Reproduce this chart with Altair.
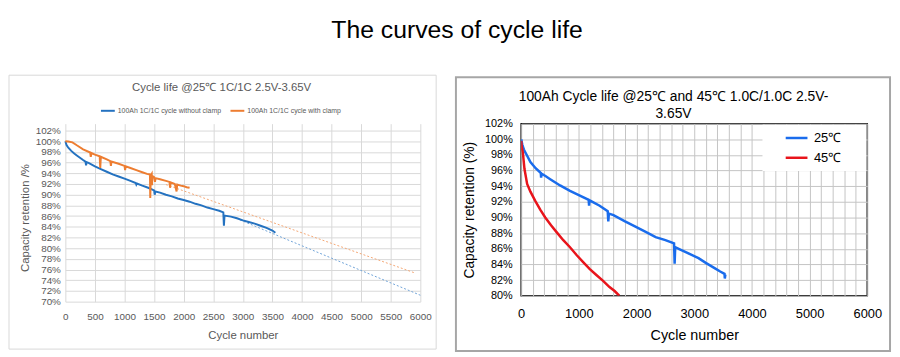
import altair as alt
import pandas as pd

MAIN_TITLE = "The curves of cycle life"

# ---------------- Left chart data ----------------
L_TITLE = "Cycle life @25℃ 1C/1C 2.5V-3.65V"
L_SERIES = ["100Ah 1C/1C cycle without clamp", "100Ah 1C/1C cycle with clamp"]
L_COLORS = ["#2472c0", "#ed7d31"]

L_BLUE_CYCLE = [0, 20, 50, 100, 150, 200, 300, 340, 350, 360, 400, 500, 600, 700, 800, 900,
                1000, 1100, 1190, 1200, 1210, 1300, 1400, 1500, 1510, 1520, 1600, 1700, 1800,
                1900, 2000, 2100, 2200, 2300, 2400, 2500, 2600, 2670, 2680, 2690, 2800, 2900,
                3000, 3100, 3200, 3300, 3400, 3500, 3550]
L_BLUE_VAL = [100.0, 99.3, 98.8, 98.2, 97.7, 97.3, 96.5, 96.2, 95.5, 96.1, 95.9, 95.3, 94.8,
              94.3, 93.8, 93.4, 93.0, 92.6, 92.2, 91.9, 92.1, 91.7, 91.3, 90.8, 90.0, 90.6,
              90.4, 90.0, 89.7, 89.3, 89.0, 88.7, 88.3, 88.0, 87.6, 87.3, 87.0, 86.7, 84.2,
              86.1, 85.9, 85.6, 85.2, 84.9, 84.6, 84.2, 83.8, 83.3, 82.9]

L_ORANGE_CYCLE = [0, 50, 120, 200, 300, 420, 430, 440, 500, 580, 590, 600, 700, 760, 770, 780,
                  900, 1000, 1010, 1020, 1100, 1200, 1300, 1380, 1430, 1435, 1445, 1460, 1465,
                  1470, 1500, 1515, 1525, 1600, 1700, 1760, 1770, 1780, 1850, 1880, 1890, 1950,
                  2000, 2050, 2100]
L_ORANGE_VAL = [100.0, 99.95, 99.8, 99.2, 98.5, 97.9, 97.1, 97.8, 97.5, 97.2, 95.0, 97.1, 96.6,
                96.3, 95.4, 96.2, 95.8, 95.4, 94.6, 95.3, 95.0, 94.6, 94.2, 93.9, 93.8, 89.4,
                93.6, 93.9, 91.8, 93.5, 93.3, 92.4, 93.1, 92.9, 92.6, 92.4, 91.3, 92.3, 92.0,
                90.6, 91.9, 91.7, 91.6, 91.4, 91.3]

L_BLUE_TREND_CYCLE = [2950, 6000]
L_BLUE_TREND_VAL = [85.3, 71.2]
L_ORANGE_TREND_CYCLE = [1700, 5900]
L_ORANGE_TREND_VAL = [91.9, 75.4]

L_X_TICKS = list(range(0, 6001, 500))
L_Y_TICKS = list(range(70, 103, 2))

# ---------------- Right chart data ----------------
R_TITLE = "100Ah Cycle life @25℃ and 45℃ 1.0C/1.0C 2.5V-\n3.65V"
R_SERIES = ["25℃", "45℃"]
R_COLORS = ["#1a6cec", "#e8141b"]

R_25_CYCLE = [0, 20, 46, 103, 160, 250, 331, 340, 345, 355, 420, 503, 674, 846, 1017, 1170,
              1177, 1185, 1360, 1500, 1510, 1520, 1600, 1800, 1989, 2150, 2331, 2500, 2650,
              2660, 2670, 2731, 2900, 3074, 3200, 3360, 3450, 3525, 3530, 3540]
R_25_VAL = [100.0, 99.3, 98.7, 97.9, 97.1, 96.3, 95.75, 95.7, 95.1, 95.6, 95.3, 94.9, 94.1,
            93.4, 92.8, 92.25, 91.5, 92.2, 91.5, 90.8, 89.5, 90.5, 90.3, 89.5, 88.8, 88.2,
            87.5, 87.1, 86.7, 84.1, 86.2, 86.0, 85.4, 84.8, 84.2, 83.5, 83.1, 82.8, 82.2, 82.7]

R_45_CYCLE = [0, 10, 29, 57, 103, 160, 246, 330, 417, 517, 617, 730, 846, 960, 1074, 1190,
              1303, 1420, 1531, 1620, 1700]
R_45_VAL = [99.8, 99.0, 98.3, 96.2, 94.3, 93.3, 92.1, 91.0, 90.0, 89.0, 88.1, 87.1, 86.2,
            85.2, 84.3, 83.4, 82.65, 81.9, 81.1, 80.6, 80.0]

R_X_TICKS = list(range(0, 6001, 200))
R_Y_TICKS = list(range(80, 103, 2))

FONT = "Liberation Sans"

# left plot: 102% sits 7px below the top of a 180px-tall view (173px for 32 points)
L_H = 180
L_TOP = 70 + 32 * L_H / 173.0

# ---------------- Left chart ----------------
l_main = pd.DataFrame({
    "cycle": L_BLUE_CYCLE + L_ORANGE_CYCLE,
    "val": L_BLUE_VAL + L_ORANGE_VAL,
    "series": [L_SERIES[0]] * len(L_BLUE_CYCLE) + [L_SERIES[1]] * len(L_ORANGE_CYCLE),
})
l_btrend = pd.DataFrame({"cycle": L_BLUE_TREND_CYCLE, "val": L_BLUE_TREND_VAL})
l_otrend = pd.DataFrame({"cycle": L_ORANGE_TREND_CYCLE, "val": L_ORANGE_TREND_VAL})

lx = alt.X("cycle:Q", scale=alt.Scale(domain=[0, 6000], nice=False),
           axis=alt.Axis(values=L_X_TICKS, format="d", grid=True, gridColor="#d9d9d9",
                         domain=False, ticks=False, labelFlush=False,
                         labelColor="#595959", labelFontSize=10,
                         labelFont=FONT, labelPadding=10, title="Cycle number",
                         titleColor="#595959", titleFontSize=11.5, titleFont=FONT,
                         titleFontWeight="normal", titlePadding=8))
ly = alt.Y("val:Q", scale=alt.Scale(domain=[70, L_TOP], nice=False, zero=False),
           axis=alt.Axis(values=L_Y_TICKS, labelExpr="datum.value + '%'", grid=True,
                         gridColor="#d9d9d9", domain=False, ticks=False, labelFlush=False,
                         labelColor="#595959", labelFontSize=10, labelFont=FONT,
                         labelPadding=5, title="Capacity retention /%",
                         titleColor="#595959", titleFontSize=11.5, titleFont=FONT,
                         titleFontWeight="normal", titlePadding=5, titleY=95))

one = pd.DataFrame({"t": [L_TITLE]})
l_frame = alt.Chart(one).mark_rect(fillOpacity=0, stroke="#d9d9d9", strokeWidth=1).encode(
    x=alt.value(-57), x2=alt.value(375), y=alt.value(-49), y2=alt.value(228))
l_title = alt.Chart(one).mark_text(fontSize=11.5, font=FONT, color="#595959").encode(
    text="t:N", x=alt.value(158), y=alt.value(-36))
l_bt = alt.Chart(l_btrend).mark_line(strokeDash=[2, 2], strokeWidth=1, color="#6fa3d8").encode(x=lx, y=ly)
l_ot = alt.Chart(l_otrend).mark_line(strokeDash=[2, 2], strokeWidth=1, color="#f4a774").encode(x=lx, y=ly)
l_lines = alt.Chart(l_main).mark_line(strokeWidth=2).encode(
    x=lx, y=ly,
    color=alt.Color("series:N", scale=alt.Scale(domain=L_SERIES, range=L_COLORS),
                    legend=alt.Legend(orient="none", legendX=35, legendY=-21,
                                      direction="horizontal", title=None,
                                      symbolType="stroke", symbolSize=196,
                                      symbolStrokeWidth=2, labelFontSize=7,
                                      labelFont=FONT, labelColor="#595959",
                                      columnPadding=5, labelOffset=2, labelLimit=0)),
    order=alt.Order("cycle:Q"))

left = alt.layer(l_frame, l_title, l_bt, l_ot, l_lines).properties(width=359, height=L_H)

# ---------------- Right chart ----------------
r_main = pd.DataFrame({
    "cycle": R_25_CYCLE + R_45_CYCLE,
    "val": R_25_VAL + R_45_VAL,
    "series": [R_SERIES[0]] * len(R_25_CYCLE) + [R_SERIES[1]] * len(R_45_CYCLE),
})

rx = alt.X("cycle:Q", scale=alt.Scale(domain=[0, 6000], nice=False),
           axis=alt.Axis(values=R_X_TICKS,
                         labelExpr="datum.value % 1000 === 0 ? format(datum.value, 'd') : ''",
                         grid=True, gridColor="#c4c4c4", domain=False, ticks=False,
                         labelFlush=False,
                         labelColor="black", labelFontSize=13, labelFont=FONT,
                         labelPadding=12, title="Cycle number", titleColor="black",
                         titleFontSize=14.5, titleFont=FONT, titleFontWeight="normal",
                         titlePadding=8))
ry = alt.Y("val:Q", scale=alt.Scale(domain=[80, 102], nice=False, zero=False),
           axis=alt.Axis(values=R_Y_TICKS, labelExpr="datum.value + '%'", grid=True,
                         gridColor="#c4c4c4", domain=False, ticks=False, labelFlush=False,
                         labelColor="black", labelFontSize=11, labelFont=FONT,
                         labelPadding=9, title="Capacity retention (%)",
                         titleColor="black", titleFontSize=14, titleFont=FONT,
                         titleFontWeight="normal", titlePadding=8))

one_r = pd.DataFrame({"t": [R_TITLE]})
r_pad = alt.Chart(one_r).mark_rect(fillOpacity=0, strokeOpacity=0).encode(
    x=alt.value(0), x2=alt.value(10), y=alt.value(-49.5), y2=alt.value(0))
r_frame = alt.Chart(one_r).mark_rect(fillOpacity=0, stroke="#a6a6a6", strokeWidth=2).encode(
    x=alt.value(-66), x2=alt.value(373), y=alt.value(-47), y2=alt.value(230))
r_title = alt.Chart(one_r).mark_text(fontSize=14, font=FONT, color="black", baseline="top",
                                     lineBreak="\n", lineHeight=17).encode(
    text="t:N", x=alt.value(154), y=alt.value(-34))
r_legbg = alt.Chart(one_r).mark_rect(fill="white").encode(
    x=alt.value(244), x2=alt.value(349), y=alt.value(1), y2=alt.value(48))
r_lines = alt.Chart(r_main).mark_line(strokeWidth=2.5, clip=True).encode(
    x=rx, y=ry,
    color=alt.Color("series:N", scale=alt.Scale(domain=R_SERIES, range=R_COLORS),
                    legend=alt.Legend(orient="none", legendX=266, legendY=2, title=None,
                                      symbolType="stroke", symbolSize=484,
                                      symbolStrokeWidth=2.5, labelFontSize=13,
                                      labelFont=FONT, labelColor="black", rowPadding=0,
                                      labelOffset=5)),
    order=alt.Order("cycle:Q"))

right = alt.layer(r_pad, r_frame, r_title, r_legbg, r_lines).properties(
    width=350, height=174, view=alt.ViewBackground(stroke="black", strokeWidth=1.5))

chart = alt.concat(left, right, columns=2, spacing=17).properties(
    title=alt.Title(MAIN_TITLE, fontSize=25, font=FONT, fontWeight="normal", color="black",
                    anchor="middle", dx=7, offset=31),
    align="none", bounds="full",
    padding={"top": 8, "left": 0, "right": 0, "bottom": 0},
).configure_view(strokeWidth=0).resolve_scale(color="independent")

chart.save("out.html", embed_options={"renderer": "svg", "actions": False})
